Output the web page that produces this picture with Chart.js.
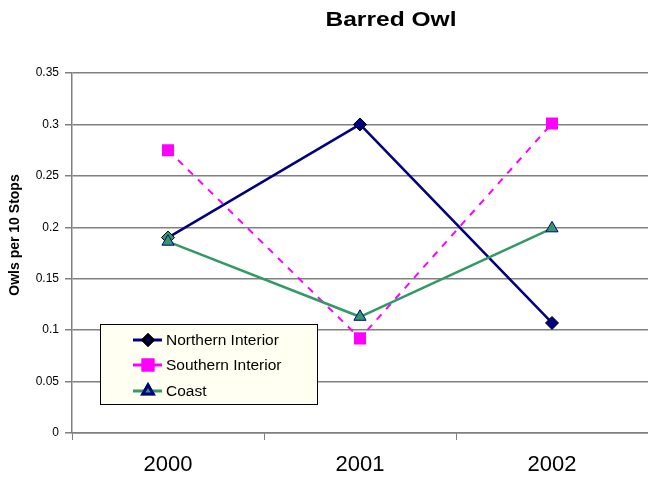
<!DOCTYPE html>
<html>
<head>
<meta charset="utf-8">
<script src="https://cdn.jsdelivr.net/npm/chart.js@4.4.0/dist/chart.umd.min.js"></script>
<style>
  html, body { margin: 0; padding: 0; background: #fff; overflow: hidden; }
  canvas { display: block; }
</style>
</head>
<body>
<canvas id="owlChart" width="648" height="481"></canvas>
<script>
// Data
const years = ['2000', '2001', '2002'];
const northernInterior = [0.190, 0.300, 0.107];
const southernInterior = [0.275, 0.092, 0.301];
const coast = [0.186, 0.113, 0.199];
const yTicks = [0, 0.05, 0.1, 0.15, 0.2, 0.25, 0.3, 0.35];

// Title, y axis title and the inset legend box
const decorPlugin = {
  id: 'decor',
  afterDraw(chart) {
    const ctx = chart.ctx;
    ctx.save();
    ctx.fillStyle = '#000';
    ctx.textAlign = 'center';
    ctx.textBaseline = 'middle';

    ctx.save();
    ctx.translate(391, 20);
    ctx.scale(1.17, 1);
    ctx.font = "bold 21px 'Liberation Sans', Arial, sans-serif";
    ctx.fillText('Barred Owl', 0, 0);
    ctx.restore();

    ctx.save();
    ctx.translate(15, 235);
    ctx.rotate(-Math.PI / 2);
    ctx.font = "bold 14px 'Liberation Sans', Arial, sans-serif";
    ctx.fillText('Owls per 10 Stops', 0, 0);
    ctx.restore();

    // legend
    const bx = 100.5, by = 324.5, bw = 217, bh = 80;
    ctx.fillStyle = '#fffff2';
    ctx.fillRect(bx, by, bw, bh);
    ctx.strokeStyle = '#000';
    ctx.lineWidth = 1;
    ctx.strokeRect(bx, by, bw, bh);

    const rows = [340, 365, 391];
    chart.data.datasets.forEach((ds, i) => {
      const y = rows[i];
      ctx.strokeStyle = ds.borderColor;
      ctx.lineWidth = 3;
      ctx.setLineDash([]);
      ctx.beginPath();
      ctx.moveTo(133, y);
      ctx.lineTo(162, y);
      ctx.stroke();
      Chart.helpers.drawPoint(ctx, {
        pointStyle: ds.pointStyle,
        radius: ds.legendRadius,
        borderWidth: 1
      }, 148, y);
      ctx.fillStyle = ds.legendFill;
      ctx.strokeStyle = ds.pointBorderColor;
      ctx.fill();
      ctx.stroke();
      ctx.fillStyle = '#000';
      ctx.textAlign = 'left';
      ctx.font = "15.5px 'Liberation Sans', Arial, sans-serif";
      ctx.fillText(ds.label, 166, y + 1);
    });
    ctx.restore();
  }
};

new Chart(document.getElementById('owlChart'), {
  type: 'line',
  data: {
    labels: years,
    datasets: [
      {
        label: 'Northern Interior',
        data: northernInterior,
        borderColor: '#000080',
        borderWidth: 2.5,
        pointStyle: 'rectRot',
        pointRadius: 6.5,
        pointBackgroundColor: ['#339966', '#000080', '#000080'],
        pointBorderColor: '#000000',
        pointBorderWidth: 1,
        legendFill: '#000080',
        legendRadius: 5,
        order: 2
      },
      {
        label: 'Southern Interior',
        data: southernInterior,
        borderColor: '#ff00ff',
        borderWidth: 2,
        borderDash: [7, 7],
        pointStyle: 'rect',
        pointRadius: 8.5,
        pointBackgroundColor: '#ff00ff',
        pointBorderColor: '#ff00ff',
        pointBorderWidth: 0,
        legendFill: '#ff00ff',
        legendRadius: 7,
        order: 1
      },
      {
        label: 'Coast',
        data: coast,
        borderColor: '#339966',
        borderWidth: 2.5,
        pointStyle: 'triangle',
        pointRadius: 7,
        pointBackgroundColor: '#339966',
        pointBorderColor: '#000080',
        pointBorderWidth: 1,
        legendFill: '#339966',
        legendRadius: 6,
        order: 0
      }
    ]
  },
  options: {
    responsive: false,
    animation: false,
    layout: { autoPadding: false, padding: { top: 73, right: 0, left: 0, bottom: 0 } },
    plugins: {
      legend: { display: false },
      title: { display: false },
      tooltip: { enabled: false }
    },
    elements: { line: { tension: 0 } },
    scales: {
      x: {
        offset: true,
        grid: {
          offset: true,
          drawOnChartArea: false,
          color: '#808080',
          tickLength: 7
        },
        border: { color: '#808080', width: 1.5 },
        ticks: {
          color: '#000',
          padding: 12,
          font: { family: "'Liberation Sans', Arial, sans-serif", size: 22 }
        },
        afterFit(scale) {
          scale.height = 48;
          scale.paddingLeft = 0;
          scale.paddingRight = 0;
        }
      },
      y: {
        min: 0,
        max: 0.35,
        afterBuildTicks(scale) { scale.ticks = yTicks.map(v => ({ value: v })); },
        grid: { color: '#808080', tickLength: 7, lineWidth: 1.5 },
        border: { color: '#808080', width: 1.5 },
        ticks: {
          color: '#000',
          padding: 6,
          font: { family: "'Liberation Sans', Arial, sans-serif", size: 12 },
          callback: v => String(Number(v.toFixed(2)))
        },
        afterFit(scale) { scale.width = 72; }
      }
    }
  },
  plugins: [decorPlugin]
});
</script>
</body>
</html>
